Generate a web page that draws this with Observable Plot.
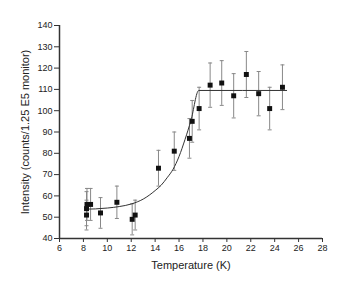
<!DOCTYPE html>
<html>
<head>
<meta charset="utf-8">
<script src="https://cdn.jsdelivr.net/npm/d3@7"></script>
<script src="https://cdn.jsdelivr.net/npm/@observablehq/plot@0.6"></script>
<style>
  html, body { margin: 0; padding: 0; background: #fff; }
  #chart svg { display: block; }
  g[aria-label="x-axis label"] text, g[aria-label="y-axis label"] text { font-size: 11px; }
</style>
</head>
<body>
<div id="chart"></div>
<script>
// Measured points
const temperature = [8.26, 8.26, 8.3, 8.6, 9.43, 10.8, 12.08, 12.33, 14.28, 15.6, 16.87, 17.1, 17.68, 18.6, 19.57, 20.57, 21.63, 22.66, 23.58, 24.65];
const intensity   = [51, 54, 56, 56, 52, 57, 49, 51, 73, 81, 87, 95, 101, 112, 113, 107, 117, 108, 101, 111];
const errorBar    = [7, 8, 7.5, 7.5, 7.2, 7.6, 7.3, 7, 8.4, 9, 9.3, 9.8, 10, 10.4, 10.5, 10.4, 10.8, 10.4, 10, 10.5];

// Fit curve
const fitT = [8.2, 9, 10, 11, 12, 13, 14, 14.5, 15, 15.5, 16, 16.5, 17, 17.65, 25.0];
const fitI = [53.8, 53.9, 54.3, 55, 56.2, 58.5, 62.5, 65, 68.5, 72.5, 78.5, 86.5, 95.5, 109.5, 109.5];

const xTicks = [6, 8, 10, 12, 14, 16, 18, 20, 22, 24, 26, 28];
const yTicks = [40, 50, 60, 70, 80, 90, 100, 110, 120, 130, 140];

const points = temperature.map((t, i) => ({t, v: intensity[i], lo: intensity[i] - errorBar[i], hi: intensity[i] + errorBar[i]}));
const fit = fitT.map((t, i) => ({t, v: fitI[i]}));

const cap = {
  draw(ctx, size) {
    const r = Math.sqrt(size / Math.PI);
    ctx.moveTo(-r, 0);
    ctx.lineTo(r, 0);
  }
};

const chart = Plot.plot({
  width: 347,
  height: 293,
  marginLeft: 59,
  marginRight: 25,
  marginTop: 25,
  marginBottom: 55,
  style: {fontFamily: "Liberation Sans, Arial, sans-serif", fontSize: "9px", color: "#222", background: "#fff"},
  x: {domain: [6, 28]},
  y: {domain: [40, 140]},
  marks: [
    Plot.axisX({ticks: xTicks, tickSize: 4, tickPadding: 2, tickFormat: d => d, label: "Temperature (K)", labelAnchor: "center", labelArrow: "none", labelOffset: 30, fontSize: 9, stroke: "#333"}),
    Plot.axisY({ticks: yTicks, tickSize: 5, tickPadding: 2, tickFormat: d => d, label: "Intensity (counts/1.25 E5 monitor)", labelAnchor: "center", labelArrow: "none", labelOffset: 38, fontSize: 9, stroke: "#333"}),
    Plot.ruleX([6], {y1: 40, y2: 140, stroke: "#333", strokeWidth: 1.5}),
    Plot.ruleY([40], {x1: 6, x2: 28, stroke: "#333", strokeWidth: 1.5}),
    Plot.ruleX(points, {x: "t", y1: "lo", y2: "hi", stroke: "#888", strokeWidth: 1}),
    Plot.dot(points, {x: "t", y: "lo", symbol: cap, r: 2, stroke: "#888", strokeWidth: 1, fill: "none"}),
    Plot.dot(points, {x: "t", y: "hi", symbol: cap, r: 2, stroke: "#888", strokeWidth: 1, fill: "none"}),
    Plot.line(fit, {x: "t", y: "v", curve: "monotone-x", stroke: "#333", strokeWidth: 1}),
    Plot.dot(points, {x: "t", y: "v", symbol: "square", r: 2.8, fill: "#111", stroke: "none"})
  ]
});
document.getElementById("chart").appendChild(chart);
</script>
</body>
</html>
